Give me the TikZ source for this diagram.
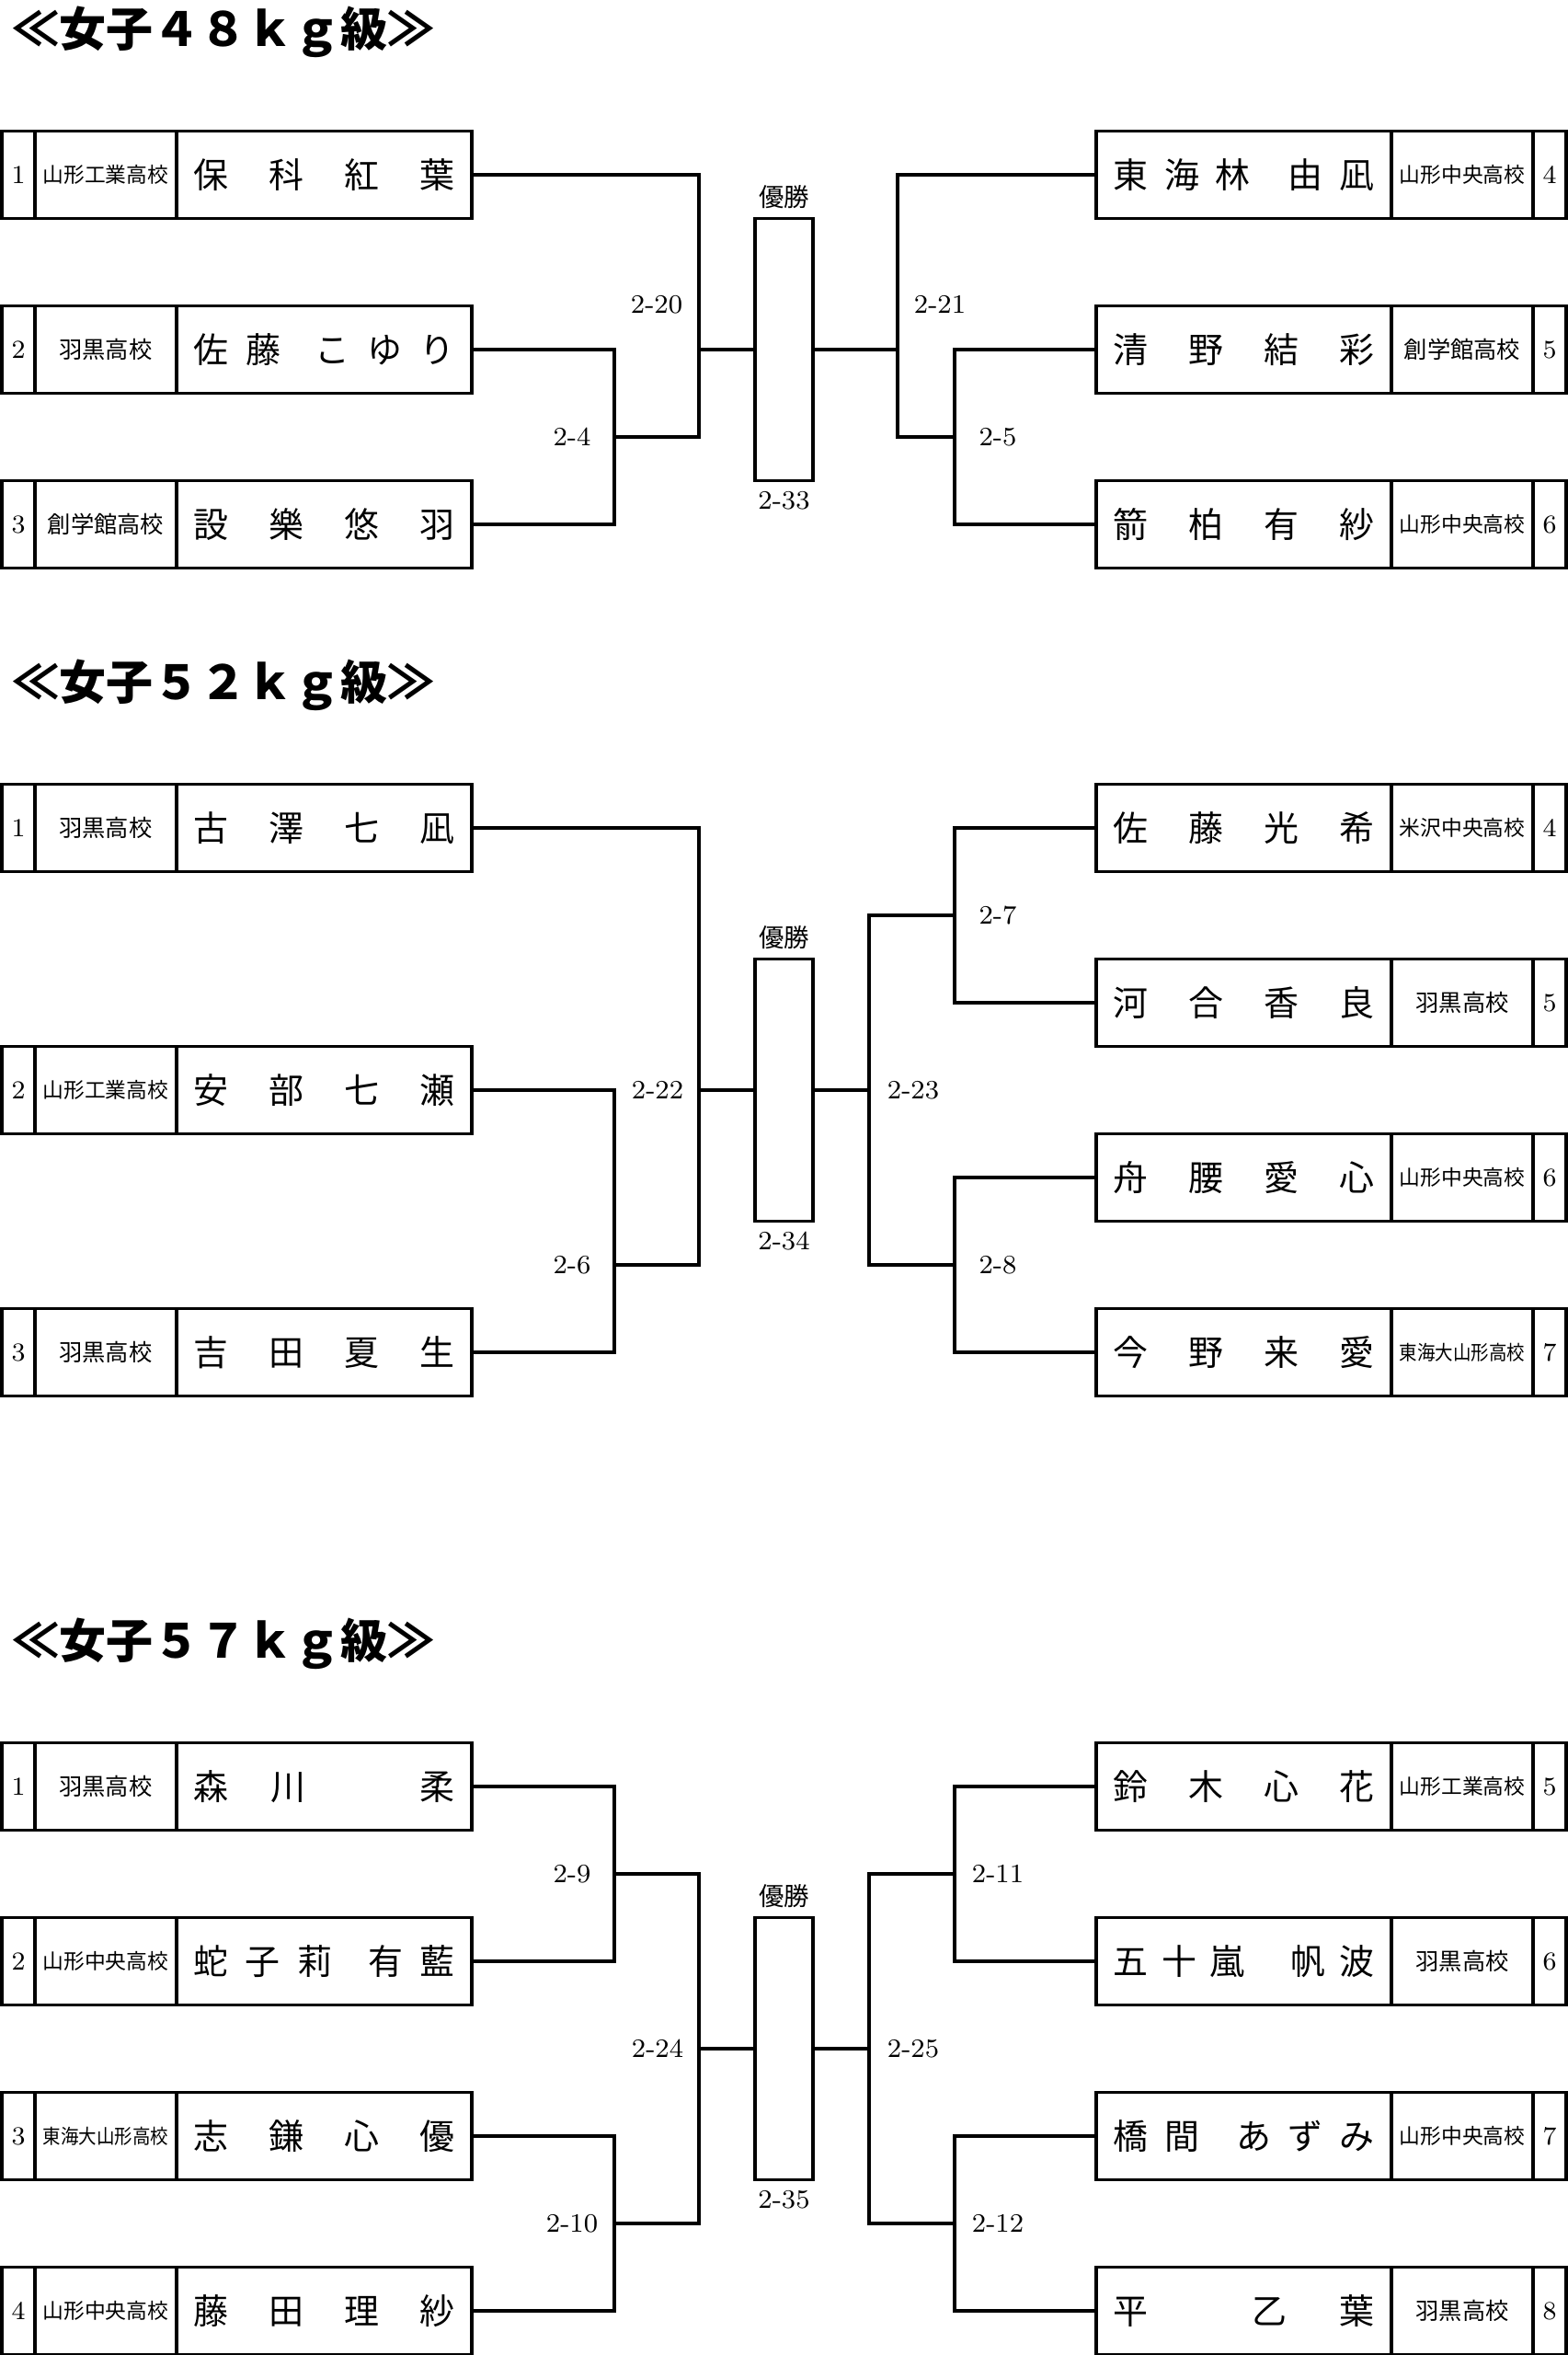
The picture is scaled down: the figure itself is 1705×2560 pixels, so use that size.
\documentclass[tikz,border=0pt]{standalone}
\usepackage{fontspec}
\usepackage{graphicx}
\newfontfamily\jp{Noto Sans CJK JP}
\usepackage{tikz}
\usetikzlibrary{positioning}
\tikzstyle{cell}=[draw, rectangle, inner sep=0pt, outer sep=0pt, minimum height=9.5mm]
\tikzstyle{numcell}=[cell, minimum width=3.6mm, font=\fontsize{8pt}{9pt}\selectfont]
\tikzstyle{schoolcell}=[cell, minimum width=15.4mm, font=\jp\fontsize{7.2pt}{8pt}\selectfont]
\tikzstyle{namecell}=[cell, minimum width=32.1mm, font=\jp\fontsize{10.8pt}{12pt}\selectfont]
\tikzstyle{winbox}=[draw, rectangle, inner sep=0pt, minimum width=6.3mm, minimum height=28.5mm]
\tikzstyle{matchno}=[inner sep=0pt, font=\fontsize{8.2pt}{9pt}\selectfont]
\tikzstyle{yusho}=[inner sep=0pt, font=\jp\fontsize{7.8pt}{9pt}\selectfont]
\tikzstyle{heading}=[anchor=west, inner sep=0pt, font=\jp\bfseries\fontsize{14.5pt}{16pt}\selectfont]
% wider space between family and given name
\newcommand{\ngap}[1]{\hskip 0pt plus #1fill\relax}
% long school names are set smaller
\newcommand{\sixch}[1]{\scalebox{0.9}{#1}}
\newcommand{\sevench}[1]{\scalebox{0.77}[0.86]{#1}}
% left player: id, y, seed, school, name
\newcommand{\lplayer}[5]{%
  \node[numcell] (#1n) at (20,#2) {#3};
  \node[schoolcell, right=0pt of #1n] (#1s) {#4};
  \node[namecell, right=0pt of #1s] (#1) {\makebox[28.4mm][s]{#5}};
}
% right player: id, y, seed, school, name
\newcommand{\rplayer}[5]{%
  \node[namecell] (#1) at (1352.5,#2) {\makebox[28.4mm][s]{#5}};
  \node[schoolcell, right=0pt of #1] (#1s) {#4};
  \node[numcell, right=0pt of #1s] (#1n) {#3};
}

\begin{document}
\begin{tikzpicture}[x=0.1mm, y=-0.1mm, line width=0.9pt]
    \useasboundingbox (0,0) rectangle (1705,2560);

    % headings of the three classes
    \foreach \k/\y/\wt in {48/35/４８, 52/745/５２, 57/1787/５７}
    \node[heading] (h\k) at (12,\y) {≪女子\wt ｋｇ級≫};

    % winner boxes, using a loop
    \foreach \k/\y/\m in {48/380/33, 52/1185/34, 57/2227/35}{
    \node[winbox] (w\k) at (852.5,\y) {};
    \node[yusho] (yu\k) at (852.5,\y-165.5) {優勝};
    \node[matchno] (m\m) at (852.5,\y+164.5) {2-\m};
    }

    % 48kg
    \lplayer{a1}{190}{1}{\sixch{山形工業高校}}{保\hfill 科\hfill 紅\hfill 葉}
    \lplayer{a2}{380}{2}{羽黒高校}{佐\hfill 藤\ngap{1.9}こ\hfill ゆ\hfill り}
    \lplayer{a3}{570}{3}{創学館高校}{設\hfill 樂\hfill 悠\hfill 羽}
    \rplayer{b4}{190}{4}{\sixch{山形中央高校}}{東\hfill 海\hfill 林\ngap{2.3}由\hfill 凪}
    \rplayer{b5}{380}{5}{創学館高校}{清\hfill 野\hfill 結\hfill 彩}
    \rplayer{b6}{570}{6}{\sixch{山形中央高校}}{箭\hfill 柏\hfill 有\hfill 紗}

    \coordinate (j4) at (668,475);
    \coordinate (j20) at (760,380);
    \draw (a1.east) -| (j20) |- (j4);
    \draw (a2.east) -| (j4) |- (a3.east);
    \draw (j20) -- (w48.west);
    \coordinate (j5) at (1038,475);
    \coordinate (j21) at (976,380);
    \draw (b4.west) -| (j21) |- (j5);
    \draw (b5.west) -| (j5) |- (b6.west);
    \draw (w48.east) -- (j21);
    \node[matchno] (m20) at (714,331) {2-20};
    \node[matchno] (m4) at (622,475) {2-4};
    \node[matchno] (m21) at (1022,331) {2-21};
    \node[matchno] (m5) at (1085,475) {2-5};

    % 52kg
    \lplayer{c1}{900}{1}{羽黒高校}{古\hfill 澤\hfill 七\hfill 凪}
    \lplayer{c2}{1185}{2}{\sixch{山形工業高校}}{安\hfill 部\hfill 七\hfill 瀬}
    \lplayer{c3}{1470}{3}{羽黒高校}{吉\hfill 田\hfill 夏\hfill 生}
    \rplayer{d4}{900}{4}{\sixch{米沢中央高校}}{佐\hfill 藤\hfill 光\hfill 希}
    \rplayer{d5}{1090}{5}{羽黒高校}{河\hfill 合\hfill 香\hfill 良}
    \rplayer{d6}{1280}{6}{\sixch{山形中央高校}}{舟\hfill 腰\hfill 愛\hfill 心}
    \rplayer{d7}{1470}{7}{\sevench{東海大山形高校}}{今\hfill 野\hfill 来\hfill 愛}

    \coordinate (j6) at (668,1375);
    \coordinate (j22) at (760,1185);
    \draw (c1.east) -| (j22) |- (j6);
    \draw (c2.east) -| (j6) |- (c3.east);
    \draw (j22) -- (w52.west);
    \coordinate (j7) at (1038,995);
    \coordinate (j8) at (1038,1375);
    \coordinate (j23) at (945,1185);
    \draw (d4.west) -| (j7) |- (d5.west);
    \draw (d6.west) -| (j8) |- (d7.west);
    \draw (j7) -| (j23) |- (j8);
    \draw (w52.east) -- (j23);
    \node[matchno] (m6) at (622,1375) {2-6};
    \node[matchno] (m22) at (715,1185) {2-22};
    \node[matchno] (m7) at (1085,995) {2-7};
    \node[matchno] (m8) at (1085,1375) {2-8};
    \node[matchno] (m23) at (993,1185) {2-23};

    % 57kg
    \lplayer{e1}{1942}{1}{羽黒高校}{森\hfill 川\ngap{2.7}柔}
    \lplayer{e2}{2132}{2}{\sixch{山形中央高校}}{蛇\hfill 子\hfill 莉\ngap{2.1}有\hfill 藍}
    \lplayer{e3}{2322}{3}{\sevench{東海大山形高校}}{志\hfill 鎌\hfill 心\hfill 優}
    \lplayer{e4}{2512}{4}{\sixch{山形中央高校}}{藤\hfill 田\hfill 理\hfill 紗}
    \rplayer{f5}{1942}{5}{\sixch{山形工業高校}}{鈴\hfill 木\hfill 心\hfill 花}
    \rplayer{f6}{2132}{6}{羽黒高校}{五\hfill 十\hfill 嵐\ngap{3.4}帆\hfill 波}
    \rplayer{f7}{2322}{7}{\sixch{山形中央高校}}{橋\hfill 間\ngap{2.2}あ\hfill ず\hfill み}
    \rplayer{f8}{2512}{8}{羽黒高校}{平\ngap{2}乙\hfill 葉}

    \coordinate (j9) at (668,2037);
    \coordinate (j10) at (668,2417);
    \coordinate (j24) at (760,2227);
    \draw (e1.east) -| (j9) |- (e2.east);
    \draw (e3.east) -| (j10) |- (e4.east);
    \draw (j9) -| (j24) |- (j10);
    \draw (j24) -- (w57.west);
    \coordinate (j11) at (1038,2037);
    \coordinate (j12) at (1038,2417);
    \coordinate (j25) at (945,2227);
    \draw (f5.west) -| (j11) |- (f6.west);
    \draw (f7.west) -| (j12) |- (f8.west);
    \draw (j11) -| (j25) |- (j12);
    \draw (w57.east) -- (j25);
    \node[matchno] (m9) at (622,2037) {2-9};
    \node[matchno] (m10) at (622,2417) {2-10};
    \node[matchno] (m24) at (715,2227) {2-24};
    \node[matchno] (m11) at (1085,2037) {2-11};
    \node[matchno] (m12) at (1085,2417) {2-12};
    \node[matchno] (m25) at (993,2227) {2-25};
  \end{tikzpicture}
\end{document}
